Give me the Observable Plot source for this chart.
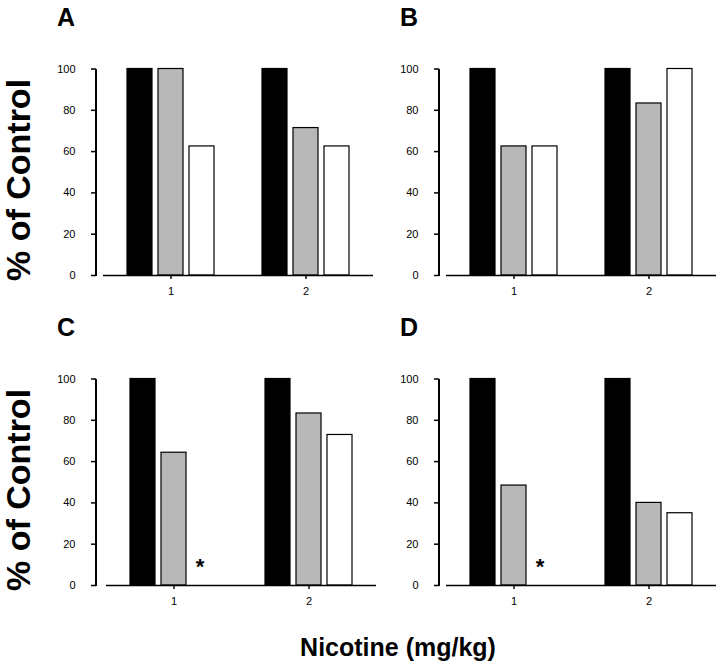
<!DOCTYPE html>
<html><head><meta charset="utf-8">
<script src="https://cdn.jsdelivr.net/npm/d3@7"></script>
<script src="https://cdn.jsdelivr.net/npm/@observablehq/plot@0.6"></script>
<style>
body{margin:0;background:#fff;font-family:"Liberation Sans",Arial,sans-serif;}
#fig{position:relative;width:720px;height:664px;overflow:hidden;background:#fff;}
.panel{position:absolute;}
.lbl{position:absolute;font-weight:bold;line-height:1;white-space:nowrap;color:#000;}
.ylbl{writing-mode:vertical-rl;transform:rotate(180deg);text-align:center;}
.axl{position:absolute;background:#000;z-index:5;}
</style></head><body><div id="fig"></div>
<script>
// ---- data ----
const doses = ["1", "2"];
const series = ["Series 1", "Series 2", "Series 3"];
const seriesFill = ["#000000", "#b8b8b8", "#ffffff"];
const panelNames = ["A", "B", "C", "D"];
const valuesA = [[100, 100, 62.5], [100, 71.4, 62.5]];
const valuesB = [[100, 62.5, 62.5], [100, 83.3, 100]];
const valuesC = [[100, 64.3, 0], [100, 83.3, 72.9]];
const valuesD = [[100, 48.4, 0], [100, 40, 35]];
const starPanels = ["C", "D"];
const starDose = "1";
const starSeries = "Series 3";
const yTicks = [0, 20, 40, 60, 80, 100];
const yLabel = "% of Control";
const xLabel = "Nicotine (mg/kg)";

// ---- layout ----
const allValues = [valuesA, valuesB, valuesC, valuesD];
const layout = [
  {left: 0,   top: 40,  ml: 102, ax: 96},
  {left: 343, top: 40,  ml: 102, ax: 96},
  {left: 0,   top: 350, ml: 105, ax: 96},
  {left: 343, top: 350, ml: 102, ax: 96}
];
const W = 377, H = 280, innerW = 271, MT = 28.5, MB = 45;
const fig = document.getElementById("fig");
const fontStyle = {fontFamily: "'Liberation Sans', Arial, sans-serif", fontSize: "11px", color: "#000", background: "transparent", overflow: "visible"};

panelNames.forEach((name, pi) => {
  const vals = allValues[pi];
  const data = [];
  doses.forEach((d, di) => series.forEach((s, si) => data.push({dose: d, series: s, value: vals[di][si]})));
  const stars = starPanels.includes(name) ? data.filter(d => d.dose === starDose && d.series === starSeries) : [];
  const L = layout[pi];
  const chart = Plot.plot({
    width: W, height: H,
    marginLeft: L.ml, marginRight: W - L.ml - innerW, marginTop: MT, marginBottom: MB,
    style: fontStyle,
    fx: {domain: doses, padding: 0, label: null, axis: null},
    x: {domain: series, paddingInner: 0.2, paddingOuter: 0.73, axis: null},
    y: {domain: [0, 100], label: null, axis: null},
    color: {domain: series, range: seriesFill},
    marks: [
      Plot.barY(data, {fx: "dose", x: "series", y: "value", fill: "series", stroke: "#000", strokeWidth: 1.2}),
      Plot.ruleY([0], {stroke: "#000", strokeWidth: 1.6}),
      Plot.axisFx({anchor: "bottom", tickSize: 4, tickPadding: 8, label: null, strokeWidth: 1.4}),
      Plot.text(stars, {fx: "dose", x: "series", y: "value", text: () => "*", fontSize: 22, fontWeight: "bold", dx: -5, dy: -19})
    ]
  });
  chart.classList.add("panel");
  chart.style.left = L.left + "px";
  chart.style.top = L.top + "px";
  fig.appendChild(chart);

  // y axis ticks and labels, set slightly left of where the x axis starts
  const yAxis = Plot.plot({
    width: L.ax + 10, height: H,
    marginLeft: L.ax, marginRight: 10, marginTop: MT, marginBottom: MB,
    style: fontStyle,
    y: {domain: [0, 100], label: null, axis: null},
    marks: [
      Plot.axisY({ticks: yTicks, tickSize: 5, tickPadding: 16, label: null, stroke: "#000", strokeWidth: 1.5})
    ]
  });
  yAxis.classList.add("panel");
  yAxis.style.left = L.left + "px";
  yAxis.style.top = L.top + "px";
  fig.appendChild(yAxis);

  // vertical y axis line, spanning the y scale's extent
  const ys = yAxis.scale("y");
  const yTop = L.top + ys.apply(yTicks[yTicks.length - 1]);
  const yBot = L.top + ys.apply(yTicks[0]);
  const line = document.createElement("div");
  line.className = "axl";
  line.style.left = (L.left + L.ax - 1) + "px";
  line.style.width = "2px";
  line.style.top = yTop + "px";
  line.style.height = (yBot - yTop + 0.8) + "px";
  fig.appendChild(line);

  const t = document.createElement("div");
  t.className = "lbl";
  t.textContent = name;
  t.style.fontSize = "25px";
  t.style.left = (L.left + 57) + "px";
  t.style.top = (L.top - 35.5) + "px";
  fig.appendChild(t);
});

[180, 490].forEach(cy => {
  const yl = document.createElement("div");
  yl.className = "lbl ylbl";
  yl.textContent = yLabel;
  yl.style.fontSize = "34px";
  yl.style.left = "1px";
  yl.style.width = "31px";
  yl.style.height = "240px";
  yl.style.top = (cy - 120) + "px";
  fig.appendChild(yl);
});

const xl = document.createElement("div");
xl.className = "lbl";
xl.textContent = xLabel;
xl.style.fontSize = "25px";
xl.style.left = "398px";
xl.style.top = "635px";
xl.style.transform = "translateX(-50%)";
fig.appendChild(xl);
</script></body></html>
